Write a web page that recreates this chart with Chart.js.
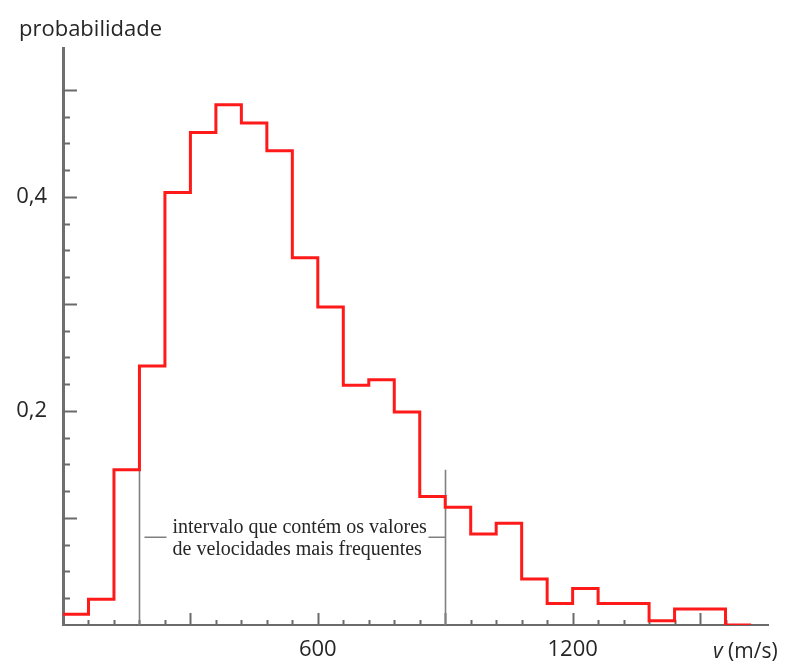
<!DOCTYPE html>
<html>
<head>
<meta charset="utf-8">
<script src="https://cdn.jsdelivr.net/npm/chart.js@4.4.1/dist/chart.umd.min.js"></script>
<style>
  html, body { margin: 0; padding: 0; background: #fff; }
  #wrap { width: 789px; height: 662px; position: relative; }
</style>
</head>
<body>
<div id="wrap"><canvas id="hist"></canvas></div>
<script>
// left edge of each 60 m/s class (last entry closes the histogram)
const binStarts = [0, 60, 120, 180, 240, 300, 360, 420, 480, 540, 600, 660, 720, 780, 840,
                   900, 960, 1020, 1080, 1140, 1200, 1260, 1320, 1380, 1440, 1500, 1560, 1620];
const probabilities = [0.010, 0.024, 0.145, 0.242, 0.404, 0.460, 0.486, 0.469, 0.443, 0.343,
                       0.297, 0.224, 0.229, 0.199, 0.120, 0.110, 0.085, 0.095, 0.043, 0.020,
                       0.034, 0.020, 0.020, 0.004, 0.015, 0.015, 0, 0];
const xLabelValues = [600, 1200];
const yLabelValues = [0.2, 0.4];
// limits of the "most frequent" interval
const frequentRange = [180, 900];

const points = binStarts.map((x, i) => ({ x: x, y: probabilities[i] }));

const near = (a, b) => Math.abs(a - b) < 1e-6;
const onStep = (v, step) => near(v / step, Math.round(v / step));

const labelFont = { family: '"Open Sans", sans-serif', size: 22 };

// ticks drawn inside the axes + annotation + free texts
const decorations = {
  id: 'decorations',
  beforeDatasetsDraw(chart) {
    const ctx = chart.ctx;
    const xs = chart.scales.x, ys = chart.scales.y;
    const area = chart.chartArea;
    ctx.save();
    ctx.strokeStyle = '#6a6a6a';
    ctx.lineWidth = 2;
    ys.ticks.forEach(t => {
      if (t.value <= 0 || !onStep(t.value, 0.025)) return;
      const y = Math.round(ys.getPixelForValue(t.value)) + 0.5;
      const len = onStep(t.value, 0.1) ? 14 : 7;
      ctx.beginPath();
      ctx.moveTo(area.left, y);
      ctx.lineTo(area.left + len, y);
      ctx.stroke();
    });
    xs.ticks.forEach(t => {
      if (t.value <= 0 || !onStep(t.value, 60)) return;
      const x = Math.round(xs.getPixelForValue(t.value)) + 0.5;
      const len = onStep(t.value, 300) ? 12 : 5;
      ctx.beginPath();
      ctx.moveTo(x, area.bottom);
      ctx.lineTo(x, area.bottom - len);
      ctx.stroke();
    });

    // interval annotation
    ctx.strokeStyle = '#808080';
    ctx.lineWidth = 1.6;
    const yTop = ys.getPixelForValue(0.145);
    const yMid = ys.getPixelForValue(0.082);
    const xl = Math.round(xs.getPixelForValue(frequentRange[0])) + 0.5;
    const xr = Math.round(xs.getPixelForValue(frequentRange[1])) + 0.5;
    ctx.beginPath();
    ctx.moveTo(xl, yTop); ctx.lineTo(xl, area.bottom);
    ctx.moveTo(xr, yTop); ctx.lineTo(xr, area.bottom);
    ctx.moveTo(xl + 5, yMid); ctx.lineTo(xl + 27, yMid);
    ctx.moveTo(xr - 17, yMid); ctx.lineTo(xr, yMid);
    ctx.stroke();

    ctx.fillStyle = '#262626';
    ctx.font = '20px "Liberation Serif", "Times New Roman", serif';
    ctx.textBaseline = 'alphabetic';
    ctx.textAlign = 'left';
    ctx.fillText('intervalo que contém os valores', xl + 33, yMid - 4);
    ctx.fillText('de velocidades mais frequentes', xl + 33, yMid + 18);
    ctx.restore();
  },
  afterDraw(chart) {
    const ctx = chart.ctx;
    ctx.save();
    ctx.fillStyle = '#262626';
    ctx.textBaseline = 'alphabetic';
    ctx.textAlign = 'left';
    ctx.font = '22px "Open Sans", sans-serif';
    ctx.fillText('probabilidade', 19, 36);
    ctx.font = 'italic 21px "Open Sans", sans-serif';
    ctx.fillText('v', 713, 658);
    const w = ctx.measureText('v ').width;
    ctx.font = '21px "Open Sans", sans-serif';
    ctx.fillText('(m/s)', 713 + w, 658);
    ctx.restore();
  }
};

new Chart(document.getElementById('hist'), {
  type: 'line',
  data: {
    datasets: [{
      label: 'probabilidade',
      data: points,
      stepped: 'before',
      borderColor: '#ff1a1a',
      borderWidth: 3,
      pointRadius: 0,
      fill: false
    }]
  },
  options: {
    responsive: true,
    maintainAspectRatio: false,
    animation: false,
    layout: { padding: { top: 48, right: 21, left: 0, bottom: 0 } },
    plugins: {
      legend: { display: false },
      tooltip: { enabled: false }
    },
    scales: {
      x: {
        type: 'linear',
        min: 0,
        max: 1660,
        afterFit: s => { s.height = 37; },
        grid: { display: false, drawTicks: false },
        border: { display: true, color: '#6a6a6a', width: 2 },
        ticks: {
          stepSize: 60,
          autoSkip: false,
          maxRotation: 0,
          padding: 12,
          color: '#262626',
          font: labelFont,
          callback: v => xLabelValues.some(l => near(l, v)) ? String(v) : ''
        }
      },
      y: {
        min: 0,
        max: 0.539,
        afterFit: s => { s.width = 63; },
        grid: { display: false, drawTicks: false },
        border: { display: true, color: '#6f6f6f', width: 3 },
        ticks: {
          stepSize: 0.025,
          autoSkip: false,
          padding: 16,
          color: '#262626',
          font: labelFont,
          callback: v => yLabelValues.some(l => near(l, v)) ? v.toFixed(1).replace('.', ',') : ''
        }
      }
    }
  },
  plugins: [decorations]
});
</script>
</body>
</html>
